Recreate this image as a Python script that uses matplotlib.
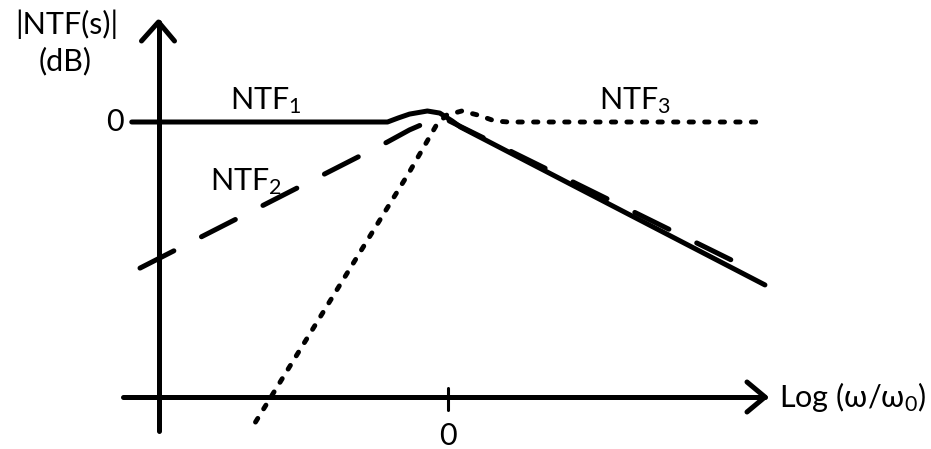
import numpy as np
import matplotlib
matplotlib.use("Agg")
import matplotlib.pyplot as plt

plt.rcParams['font.family'] = ['Lato', 'DejaVu Sans']
plt.rcParams['mathtext.fontset'] = 'custom'
plt.rcParams['mathtext.rm'] = 'Lato'
plt.rcParams['mathtext.default'] = 'regular'

# asymptotic noise transfer sketches: x in decades of w/w0, y in dB
ntf1_x = [-2.30, -0.44, -0.36, -0.28, -0.15, -0.06, 0.03, 0.09, 2.305]
ntf1_y = [0.0, 0.0, 1.2, 2.3, 3.2, 2.6, 0.3, -1.45, -47.4]

ntf2_x = [-2.24, -0.44, -0.28, -0.13, -0.02, 0.07, 2.18]
ntf2_y = [-42.5, -5.8, -2.3, 0.3, 0.9, -0.9, -42.5]

ntf3_x = [-1.40, -0.28, -0.08, -0.01, 0.10, 0.22, 0.34, 0.44, 2.27]
ntf3_y = [-87.3, -14.5, -0.6, 2.0, 3.2, 2.0, 0.3, 0.0, 0.0]

# pixel scale of the sketch
px_dec = 137.5   # pixels per decade
px_db = 3.4375   # pixels per dB
W, H = 931, 449
x0_px, y0_px = 448, 122

fig = plt.figure(figsize=(W / 100, H / 100), dpi=100)
ax = fig.add_axes([0, 0, 1, 1])
ax.set_xlim(-x0_px / px_dec, (W - x0_px) / px_dec)
ax.set_ylim((y0_px - H) / px_db, y0_px / px_db)
ax.axis('off')

def dx(p):
    return p / px_dec

def dy(p):
    return p / px_db

k = dict(color='black', solid_capstyle='round', dash_capstyle='round',
         solid_joinstyle='round')

# axes with open arrowheads
xv = dx(158.5 - x0_px)
y_top = dy(y0_px - 22)
y_bot = dy(y0_px - 431)
yh = dy(y0_px - 397)
x_left = dx(123 - x0_px)
x_right = dx(765 - x0_px)
ax.plot([xv, xv], [y_bot, y_top], lw=3.6, **k)
ax.plot([xv - dx(17), xv, xv + dx(16)], [y_top - dy(19), y_top, y_top - dy(19)], lw=3.6, **k)
ax.plot([x_left, x_right], [yh, yh], lw=3.6, **k)
ax.plot([x_right - dx(18), x_right, x_right - dx(18)], [yh + dy(15), yh, yh - dy(15)], lw=3.6, **k)
ax.plot([0, 0], [yh + dy(9), yh - dy(13)], lw=2.2, **k)

ax.plot(ntf1_x, ntf1_y, lw=3.6, **k)
ax.plot(ntf2_x, ntf2_y, lw=3.6, dashes=(7.6, 6.2), **k)
ax.plot(ntf3_x, ntf3_y, lw=3.5, dashes=(0.9, 2.3), **k)

fs = 22
ax.text(dx(67 - x0_px), dy(y0_px - 24), '|NTF(s)|', fontsize=fs, ha='center', va='center')
ax.text(dx(65 - x0_px), dy(y0_px - 61), '(dB)', fontsize=fs, ha='center', va='center')
ax.text(dx(115 - x0_px), 0, '0', fontsize=fs, ha='center', va='center')
ax.text(0, dy(y0_px - 436), '0', fontsize=fs, ha='center', va='center')
ax.text(dx(266 - x0_px), dy(y0_px - 101), r'NTF$_1$', fontsize=fs, ha='center', va='center')
ax.text(dx(246 - x0_px), dy(y0_px - 182), r'NTF$_2$', fontsize=fs, ha='center', va='center')
ax.text(dx(635 - x0_px), dy(y0_px - 101), r'NTF$_3$', fontsize=fs, ha='center', va='center')
ax.text(dx(779 - x0_px), yh, r'Log (ω/ω$_0$)', fontsize=fs, ha='left', va='center')

fig.savefig('out.png', dpi=100)
